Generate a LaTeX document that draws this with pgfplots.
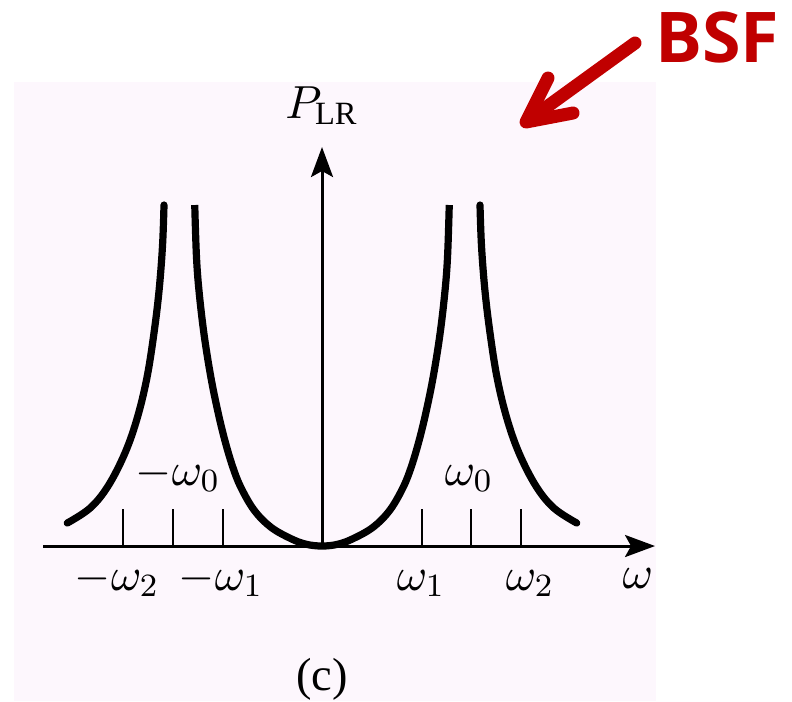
\RequirePackage{fix-cm}
\documentclass[border=0pt]{standalone}
\usepackage{pgfplots}
\pgfplotsset{compat=1.18}
\usepackage{fontspec}
\setmainfont{Liberation Serif}
\newfontfamily\bsffont{Open Sans}
\usetikzlibrary{arrows.meta}
\definecolor{bgpink}{RGB}{253,247,253}
\definecolor{bsfred}{RGB}{192,0,0}
\begin{document}
\begin{tikzpicture}
\useasboundingbox (0pt,0pt) rectangle (198pt,-175.25pt);
\fill[bgpink] (3.5pt,-20.5pt) rectangle (164pt,-175.25pt);
% BSF annotation
\node[anchor=base west, inner sep=0pt, text=bsfred, font=\bsffont\bfseries\fontsize{17.5}{20}\selectfont] at (163.6pt,-15.5pt) {BSF};
\draw[bsfred, line width=3.25pt, line cap=round] (158.75pt,-10.75pt) -- (132.5pt,-29.75pt);
\draw[bsfred, line width=3.25pt, line cap=round, line join=round] (137pt,-19.5pt) -- (131.5pt,-30.5pt) -- (143.25pt,-28.25pt);
\begin{axis}[
  anchor=origin, at={(80.5pt,-136.5pt)},
  x=24.875pt, y=25pt,
  xmin=-2.804, xmax=3.347, ymin=0, ymax=3.99,
  enlargelimits=false, clip=false,
  axis lines=middle,
  axis line style={line width=0.75pt, -{Stealth[length=7.5pt,width=5.5pt,inset=1.5pt]}},
  xtick={-2,-1.5,-1,1,1.5,2}, xticklabels={,,,,,},
  ytick=\empty,
  xtick pos=bottom, xtick align=inside,
  major tick length=9.25pt,
  tick style={line width=0.5pt, black},
]
\addplot[black, line width=1.8pt, smooth, tension=0.6, line cap=round] coordinates {
(-2.56,0.23) (-2.33,0.38) (-2.15,0.60) (-1.98,0.93) (-1.857,1.28) (-1.76,1.68) (-1.69,2.12) (-1.638,2.55) (-1.603,3.0) (-1.588,3.41)
};
\addplot[black, line width=1.8pt, smooth, tension=0.6] coordinates {
(-1.279,3.41) (-1.262,2.90) (-1.236,2.55) (-1.186,2.12) (-1.119,1.70) (-1.050,1.36) (-0.980,1.07) (-0.900,0.80) (-0.817,0.59) (-0.683,0.36) (-0.516,0.19) (-0.315,0.075) (-0.16,0.018) (0,0)
(0.16,0.018) (0.315,0.075) (0.516,0.19) (0.683,0.36) (0.817,0.59) (0.900,0.80) (0.980,1.07) (1.050,1.36) (1.119,1.70) (1.186,2.12) (1.236,2.55) (1.262,2.90) (1.279,3.41)
};
\addplot[black, line width=1.8pt, smooth, tension=0.6, line cap=round] coordinates {
(1.588,3.41) (1.603,3.0) (1.638,2.55) (1.69,2.12) (1.76,1.68) (1.857,1.28) (1.98,0.93) (2.15,0.60) (2.33,0.38) (2.56,0.23)
};
\begin{scope}[every node/.style={anchor=base, inner sep=0pt, font=\fontsize{11.6}{14}\selectfont}]
\node at (axis cs:-2.06,-0.44) {$-\omega_2$};
\node at (axis cs:-1.015,-0.44) {$-\omega_1$};
\node at (axis cs:0.995,-0.44) {$\omega_1$};
\node at (axis cs:2.09,-0.44) {$\omega_2$};
\node at (axis cs:-1.447,0.61) {$-\omega_0$};
\node at (axis cs:1.477,0.61) {$\omega_0$};
\node at (axis cs:3.176,-0.42) {$\omega$};
\node at (axis cs:0,4.28) {$P_{\mathrm{LR}}$};
\node at (axis cs:0,-1.44) {(c)};
\end{scope}
\end{axis}
\end{tikzpicture}
\end{document}
